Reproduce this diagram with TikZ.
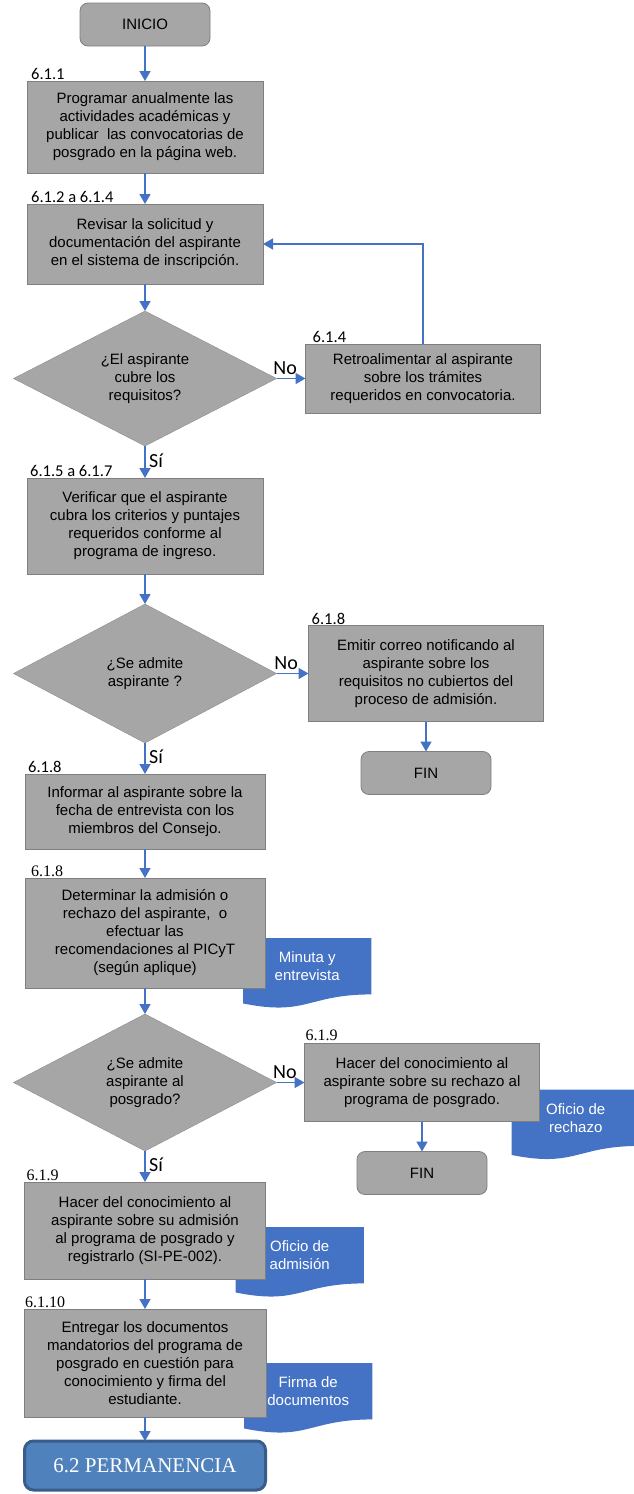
\documentclass[tikz,border=0pt]{standalone}
\usepackage{fontspec}
\setmainfont{Liberation Sans}
\newfontfamily\numfont{Carlito}
\newfontfamily\timesfont{Liberation Serif}
\usetikzlibrary{positioning,shapes.geometric,arrows.meta,calc,backgrounds}
\definecolor{boxgray}{HTML}{A6A6A6}
\definecolor{edgegray}{HTML}{7F7F7F}
\definecolor{flowblue}{HTML}{4472C4}
\definecolor{docblue}{HTML}{4472C4}
\definecolor{permfill}{HTML}{4F81BD}
\definecolor{permedge}{HTML}{385D8A}
\begin{document}
\begin{tikzpicture}[x=1pt, y=-1pt, node distance=30pt,
    font=\fontsize{15}{18}\selectfont,
    proc/.style={draw=edgegray, fill=boxgray, line width=0.8pt, outer sep=0pt, minimum width=236pt, inner sep=2pt, align=center},
    dec/.style={diamond, aspect=2, draw=boxgray!85!black, fill=boxgray, outer sep=0pt, minimum width=263pt, minimum height=137pt, inner sep=0pt, align=center},
    term/.style={draw=edgegray, fill=boxgray, line width=0.8pt, outer sep=0pt, rounded corners=8pt, minimum width=130pt, minimum height=43pt},
    doc/.style={minimum width=128pt, minimum height=56pt, inner sep=0pt, align=center, text=white},
    num/.style={font=\numfont\fontsize{16.5}{20}\selectfont, inner sep=1pt},
    numserif/.style={font=\timesfont\fontsize{16}{20}\selectfont, inner sep=1pt},
    ans/.style={font=\numfont\fontsize{20}{22}\selectfont},
    perm/.style={draw=permedge, fill=permfill, line width=3pt, outer sep=0pt, rounded corners=9pt, minimum width=241pt, minimum height=49pt, text=white, font=\timesfont\fontsize{21}{24}\selectfont},
    flow/.style={draw=flowblue, line width=1.6pt, -{Triangle[length=10pt,width=11pt]}}]
\useasboundingbox (0,0) rectangle (634,1494);

\node[term] (inicio) at (145,24.5) {INICIO};
\node[proc, minimum height=92pt, below=35pt of inicio] (b1) {Programar anualmente las\\actividades académicas y\\publicar\ \ las convocatorias de\\posgrado en la página web.};
\node[proc, minimum height=80pt, below=31pt of b1] (b2) {Revisar la solicitud y\\documentación del aspirante\\en el sistema de inscripción.};
\node[dec, minimum height=135pt, below=27pt of b2] (d1) {¿El aspirante\\cubre los\\requisitos?};
\node[proc, minimum width=235pt, minimum height=69pt, right=29pt of d1] (b3) {Retroalimentar al aspirante\\sobre los trámites\\requeridos en convocatoria.};
\node[proc, minimum height=96pt, below=32pt of d1] (b4) {Verificar que el aspirante\\cubra los criterios y puntajes\\requeridos conforme al\\programa de ingreso.};
\node[dec, minimum height=139pt, below=30pt of b4] (d2) {¿Se admite\\aspirante ?};
\node[proc, minimum width=235pt, minimum height=96pt, right=32pt of d2] (b5) {Emitir correo notificando al\\aspirante sobre los\\requisitos no cubiertos del\\proceso de admisión.};
\node[term, below=30pt of b5] (fin1) {FIN};
\node[proc, minimum width=240pt, minimum height=75pt, below=31pt of d2] (b6) {Informar al aspirante sobre la\\fecha de entrevista con los\\miembros del Consejo.};
\node[proc, minimum width=240pt, minimum height=110pt, below=29pt of b6] (b7) {Determinar la admisión o\\rechazo del aspirante,\ \ o\\efectuar las\\recomendaciones al PICyT\\(según aplique)};
\node[doc, anchor=north west] (minuta) at ([xshift=-22pt, yshift=50pt]b7.south east) {Minuta y\\entrevista};
\node[dec, below=26pt of b7] (d3) {¿Se admite\\aspirante al\\posgrado?};
\node[proc, minimum width=235pt, minimum height=78pt, right=28pt of d3] (b8) {Hacer del conocimiento al\\aspirante sobre su rechazo al\\programa de posgrado.};
\node[doc, anchor=north west] (ofrechazo) at ([xshift=-28pt, yshift=32pt]b8.south east) {Oficio de\\rechazo};
\node[term, below=30pt of b8] (fin2) {FIN};
\node[proc, minimum width=241pt, minimum height=97pt, below=31pt of d3] (b9) {Hacer del conocimiento al\\aspirante sobre su admisión\\al programa de posgrado y\\registrarlo (SI-PE-002).};
\node[doc, anchor=north west] (ofadmision) at ([xshift=-30pt, yshift=52pt]b9.south east) {Oficio de\\admisión};
\node[proc, minimum width=242pt, minimum height=108pt, below=30pt of b9] (b10) {Entregar los documentos\\mandatorios del programa de\\posgrado en cuestión para\\conocimiento y firma del\\estudiante.};
\node[doc, anchor=north west] (firma) at ([xshift=-22pt, yshift=54pt]b10.south east) {Firma de\\documentos};
\node[perm, below=24pt of b10] (permanencia) {6.2 PERMANENCIA};

\node[num, above right=0pt and 3pt of b1.north west] (n1) {6.1.1};
\node[num, above right=0pt and 3pt of b2.north west] (n2) {6.1.2 a 6.1.4};
\node[num, above right=0pt and 6pt of b3.north west] (n3) {6.1.4};
\node[num, above right=0pt and 2pt of b4.north west] (n4) {6.1.5 a 6.1.7};
\node[num, above right=0pt and 2pt of b5.north west] (n5) {6.1.8};
\node[num, above right=0pt and 2pt of b6.north west] (n6) {6.1.8};
\node[numserif, above right=0pt and 5pt of b7.north west] (n7) {6.1.8};
\node[numserif, above right=2pt and 0pt of b8.north west] (n8) {6.1.9};
\node[numserif, above right=0pt and 1pt of b9.north west] (n9) {6.1.9};
\node[numserif, above right=0pt and 0pt of b10.north west] (n10) {6.1.10};

\draw[flow] (inicio) -- (b1);
\draw[flow] (b1) -- (b2);
\draw[flow] (b2) -- (d1);
\draw[flow] (d1) -- node[ans, above, pos=0.3] {No} (b3);
\draw[flow] (b3.north) |- (b2.east);
\draw[flow] (d1) -- node[ans, right, pos=0.45] {Sí} (b4);
\draw[flow] (b4) -- (d2);
\draw[flow] (d2) -- node[ans, above, pos=0.3] {No} (b5);
\draw[flow] (b5) -- (fin1);
\draw[flow] (d2) -- node[ans, right, pos=0.45] {Sí} (b6);
\draw[flow] (b6) -- (b7);
\draw[flow] (b7) -- (d3);
\draw[flow] (d3) -- node[ans, above, pos=0.3] {No} (b8);
\draw[flow] (b8) -- (fin2);
\draw[flow] (d3) -- node[ans, right, pos=0.45] {Sí} (b9);
\draw[flow] (b9) -- (b10);
\draw[flow] (b10) -- (permanencia);

\begin{scope}[on background layer]
  \foreach \d in {minuta,ofrechazo,ofadmision,firma}
    \fill[docblue] (\d.north west) -- (\d.north east) -- (\d.south east)
      .. controls (\d.south) and ($(\d.north)!1.39!(\d.south)$)
      .. ($(\d.north west)!1.16!(\d.south west)$) -- cycle;
\end{scope}
\end{tikzpicture}
\end{document}
